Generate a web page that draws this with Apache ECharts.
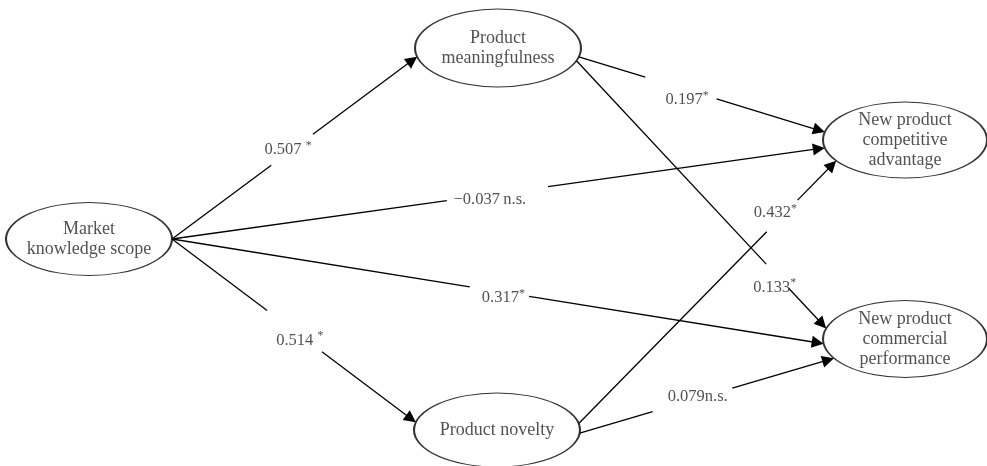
<!DOCTYPE html>
<html>
<head>
<meta charset="utf-8">
<script src="https://cdn.jsdelivr.net/npm/echarts@6/dist/echarts.min.js"></script>
<style>
html,body{margin:0;padding:0;background:#fff;}
#chart{width:987px;height:466px;}
</style>
</head>
<body>
<div id="chart"></div>
<script>
// ---- data ----
const nodeNames = ['Market\nknowledge scope', 'Product\nmeaningfulness', 'New product\ncompetitive\nadvantage', 'New product\ncommercial\nperformance', 'Product novelty'];
const edgeFrom = [0, 0, 0, 0, 1, 1, 4, 4];
const edgeTo   = [1, 2, 3, 4, 2, 3, 2, 3];
const coefValues = ['0.507', '\u22120.037', '0.317', '0.514', '0.197', '0.133', '0.432', '0.079'];
const coefSig    = [' *', '\u2009n.s.', '*', ' *', '*', '*', '*', 'n.s.'];

// ---- layout (pixel space of the diagram) ----
const nodeLayout = [[89, 239, 166, 73], [498, 48, 166, 78], [905, 140, 164, 76], [905, 339, 164, 77], [497, 430, 166, 74]];
const edgeAnchors = [[0, 167], [0, 168], [0, 173], [0, 192], [13, 192], [19, 196], [350, 147], [5, 150]];
const labelPlace = [[0.49, -4, 0], [0.49, -2, 5], [0.51, -1, 5], [0.52, 1, 6], [0.44, 0, 10], [0.85, -14, -1], [0.76, 1, -11], [0.46, 1, -2]];
const edgeGaps = [[0.405, 0.575], [0.421, 0.576], [0.457, 0.548], [0.39, 0.615], [0.27, 0.56], [0.76, 0.85], [0.73, 0.85], [0.287, 0.6]];

const FONT = '"Liberation Serif", "DejaVu Serif", serif';
const INK = '#262626';
const ARROW = 12;

function anchor(n, deg) {
  const L = nodeLayout[n], a = deg * Math.PI / 180;
  return [L[0] + L[2] / 2 * Math.cos(a), L[1] + L[3] / 2 * Math.sin(a)];
}

const lineHead = [], lineTail = [], labelData = [];
for (let i = 0; i < edgeFrom.length; i++) {
  const p = anchor(edgeFrom[i], edgeAnchors[i][0]);
  const q = anchor(edgeTo[i], edgeAnchors[i][1]);
  const dx = q[0] - p[0], dy = q[1] - p[1], len = Math.hypot(dx, dy);
  const q2 = [q[0] - dx / len * ARROW / 2, q[1] - dy / len * ARROW / 2];
  const g = edgeGaps[i];
  const g1 = [p[0] + dx * g[0], p[1] + dy * g[0]];
  const g2 = [p[0] + dx * g[1], p[1] + dy * g[1]];
  lineTail.push({ coords: [p, g1] });
  lineHead.push({ coords: [g2, q2] });
  const lp = labelPlace[i];
  labelData.push({ value: [p[0] + dx * lp[0] + lp[1], p[1] + dy * lp[0] + lp[2], i] });
}

const nodeData = nodeNames.map((n, i) => ({
  name: n,
  value: [nodeLayout[i][0], nodeLayout[i][1]],
  symbolSize: [nodeLayout[i][2], nodeLayout[i][3]]
}));

const lineStyle = { color: '#000', width: 1.3, opacity: 1, curveness: 0 };

const chart = echarts.init(document.getElementById('chart'), null, { renderer: 'canvas' });
chart.setOption({
  animation: false,
  backgroundColor: '#fff',
  grid: { left: 0, right: 0, top: 0, bottom: 0 },
  xAxis: { type: 'value', min: 0, max: 987, show: false },
  yAxis: { type: 'value', min: 0, max: 466, inverse: true, show: false },
  series: [
    {
      type: 'lines',
      coordinateSystem: 'cartesian2d',
      data: lineTail,
      symbol: 'none',
      lineStyle: lineStyle,
      z: 1
    },
    {
      type: 'lines',
      coordinateSystem: 'cartesian2d',
      data: lineHead,
      symbol: ['none', 'triangle'],
      symbolSize: ARROW,
      lineStyle: lineStyle,
      itemStyle: { color: '#000' },
      z: 1
    },
    {
      type: 'scatter',
      data: nodeData,
      symbol: 'circle',
      clip: false,
      itemStyle: { color: '#fff', borderColor: '#000', borderWidth: 1.4 },
      label: {
        show: true, position: 'inside', formatter: p => p.name,
        fontFamily: FONT, fontSize: 18, lineHeight: 20, color: INK
      },
      emphasis: { disabled: true },
      z: 3
    },
    {
      type: 'scatter',
      data: labelData,
      symbolSize: 1,
      clip: false,
      itemStyle: { color: 'rgba(0,0,0,0)' },
      label: {
        show: true, position: 'inside',
        formatter: p => '{v|' + coefValues[p.value[2]] + '}{s|' + coefSig[p.value[2]].replace('*', '') + '}' + (coefSig[p.value[2]].indexOf('*') >= 0 ? '{a|*}' : ''),
        rich: {
          v: { fontFamily: FONT, fontSize: 16.5, color: INK, lineHeight: 20 },
          s: { fontFamily: FONT, fontSize: 16.5, color: INK, lineHeight: 20 },
          a: { fontFamily: FONT, fontSize: 12, color: INK, lineHeight: 10, verticalAlign: 'top' }
        }
      },
      emphasis: { disabled: true },
      z: 4
    }
  ]
});
</script>
</body>
</html>
